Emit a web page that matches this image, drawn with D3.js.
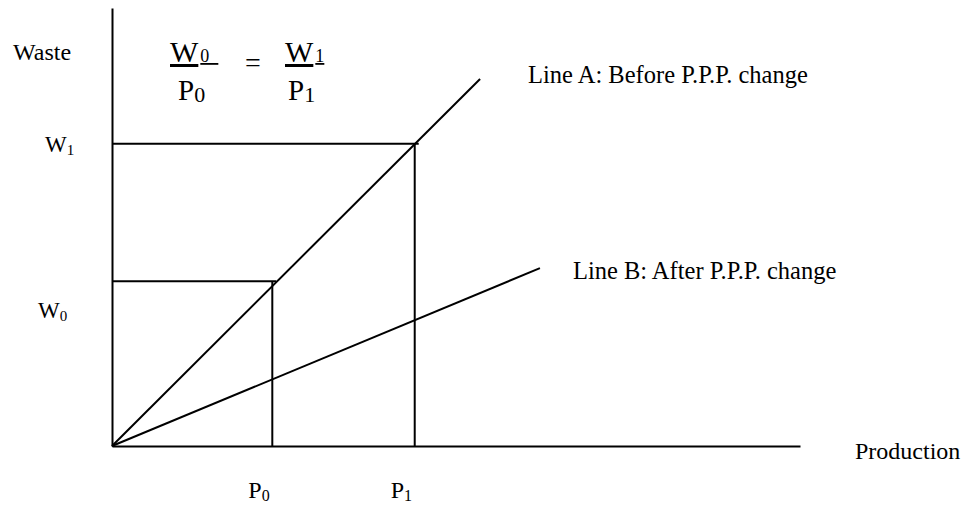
<!DOCTYPE html>
<html>
<head>
<meta charset="utf-8">
<script src="https://cdn.jsdelivr.net/npm/d3@7"></script>
<style>
  body { margin: 0; background: #fff; }
  text { font-family: "Liberation Serif", "Times New Roman", serif; fill: #000; }
</style>
</head>
<body>
<svg id="chart" width="964" height="507"></svg>
<script>
// Values, in axis units (0-100 on both axes)
const productionLevels = [23.3, 44.0]; // P0, P1
const wasteLevels = [37.6, 69.0]; // W0, W1
const productionTicks = [["P", "0"], ["P", "1"]];
const wasteTicks = [["W", "0"], ["W", "1"]];
const lineNames = ["Line A: Before P.P.P. change", "Line B: After P.P.P. change"];
const lineA = [[0, 0], [53.5, 83.8]];
const lineB = [[0, 0], [62.2, 40.6]];
const xAxisText = "Production";
const yAxisText = "Waste";

const svg = d3.select("#chart");
const width = +svg.attr("width");
const height = +svg.attr("height");
const margin = { top: 8, right: 164, bottom: 61, left: 112 };
const innerWidth = width - margin.left - margin.right;
const innerHeight = height - margin.top - margin.bottom;

const xScale = d3.scaleLinear().domain([0, 100]).range([0, innerWidth]);
const yScale = d3.scaleLinear().domain([0, 100]).range([innerHeight, 0]);

const g = svg
  .append("g")
  .attr("transform", `translate(${margin.left},${margin.top})`);

// plain axes, no ticks
g.append("g")
  .attr("transform", `translate(0,${innerHeight})`)
  .call(d3.axisBottom(xScale).tickValues([]).tickSizeOuter(0))
  .select(".domain")
  .attr("stroke-width", 2);

g.append("g")
  .call(d3.axisLeft(yScale).tickValues([]).tickSizeOuter(0))
  .select(".domain")
  .attr("stroke-width", 2);

// guide box for each (P, W) pair
const pairs = d3.zip(productionLevels, wasteLevels);
g.selectAll(".guide-h")
  .data(pairs)
  .enter()
  .append("line")
  .attr("x1", 1)
  .attr("x2", (d) => xScale(d[0]) + 4)
  .attr("y1", (d) => yScale(d[1]))
  .attr("y2", (d) => yScale(d[1]))
  .attr("stroke", "#000")
  .attr("stroke-width", 2);

g.selectAll(".guide-v")
  .data(pairs)
  .enter()
  .append("line")
  .attr("x1", (d) => xScale(d[0]))
  .attr("x2", (d) => xScale(d[0]))
  .attr("y1", (d) => yScale(d[1]))
  .attr("y2", innerHeight)
  .attr("stroke", "#000")
  .attr("stroke-width", 2);

// Line A and Line B
const line = d3
  .line()
  .x((d) => xScale(d[0]))
  .y((d) => yScale(d[1]));

const lineLabelOffset = [[48, 4], [33, 11]];
[lineA, lineB].forEach((pts, i) => {
  g.append("path")
    .attr("d", line(pts))
    .attr("fill", "none")
    .attr("stroke", "#000")
    .attr("stroke-width", 2);
  const end = pts[pts.length - 1];
  g.append("text")
    .attr("x", xScale(end[0]) + lineLabelOffset[i][0])
    .attr("y", yScale(end[1]) + lineLabelOffset[i][1])
    .style("font-size", "24.5px")
    .text(lineNames[i]);
});

// letter with a subscript, drawn as two texts side by side
const subLabel = (parent, x, y, base, sub, size, subSize, dy, dx = 0, underline = false) => {
  const grp = parent.append("g");
  const b = grp.append("text")
    .attr("x", x)
    .attr("y", y)
    .style("font-size", `${size}px`)
    .text(base);
  grp.append("text")
    .attr("x", x + b.node().getComputedTextLength() + dx)
    .attr("y", y + dy)
    .style("font-size", `${subSize}px`)
    .text(sub);
  if (underline) {
    grp.selectAll("text").style("text-decoration", "underline");
  }
  return grp;
};

// production tick labels
productionTicks.forEach((t, i) => {
  subLabel(g, xScale(productionLevels[i]) - 24, innerHeight + 52, t[0], t[1], 24, 16, 3);
});

// waste tick labels
const wasteLabelX = [38, 45];
const wasteLabelDy = [36.5, 8];
wasteTicks.forEach((t, i) => {
  subLabel(svg, wasteLabelX[i], margin.top + yScale(wasteLevels[i]) + wasteLabelDy[i],
    t[0], t[1], 23, 15, 3);
});

// axis titles
svg.append("text")
  .attr("x", 13)
  .attr("y", 60)
  .style("font-size", "24px")
  .text(yAxisText);

svg.append("text")
  .attr("x", 855)
  .attr("y", 459)
  .style("font-size", "24px")
  .text(xAxisText);

// W0/P0 = W1/P1
subLabel(svg, 170, 62, "W", "0\u00a0\u00a0", 30, 18, 0, 2, true);
subLabel(svg, 178, 100, "P", "0", 29, 22, 1.5);
svg.append("text")
  .attr("x", 245).attr("y", 72)
  .style("font-size", "28px")
  .text("=");
subLabel(svg, 285, 62, "W", "1", 30, 18, 0, 2, true);
subLabel(svg, 288, 100, "P", "1", 29, 22, 1.5);
</script>
</body>
</html>
